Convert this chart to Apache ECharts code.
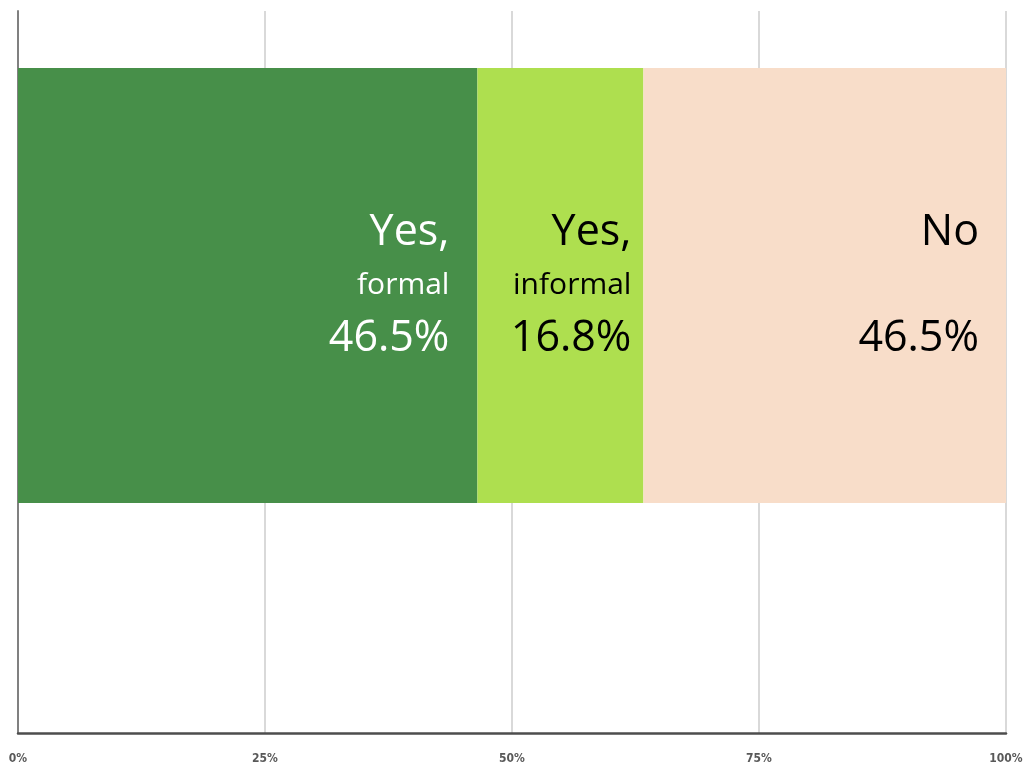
<!DOCTYPE html>
<html>
<head>
<meta charset="utf-8">
<script src="https://cdn.jsdelivr.net/npm/echarts@6/dist/echarts.min.js"></script>
<style>
  html, body { margin: 0; padding: 0; background: #fff; }
  #chart { width: 1028px; height: 770px; }
</style>
</head>
<body>
<div id="chart"></div>
<script>
// 数据
var categories = [''];
var seriesNames = ['Yes, formal', 'Yes, informal', 'No'];
var values = [46.5, 16.8, 36.7];           // bar widths as drawn
var labelTop = ['Yes,', 'Yes,', 'No'];
var labelMid = ['formal', 'informal', ' '];
var labelPct = ['46.5%', '16.8%', '46.5%'];
var tickValues = [0, 25, 50, 75, 100];

var colors = ['#478f49', '#aedf4f', '#f8ddc9'];
var textColors = ['#ffffff', '#000000', '#000000'];
var labelDist = [28, 12, 27];

var chart = echarts.init(document.getElementById('chart'));

var series = seriesNames.map(function (name, i) {
    return {
        name: name,
        type: 'bar',
        stack: 'total',
        xAxisIndex: 1,
        yAxisIndex: 1,
        barCategoryGap: '0%',
        itemStyle: { color: colors[i] },
        label: {
            show: true,
            position: 'insideRight',
            distance: labelDist[i],
            align: 'right',
            formatter: '{a|' + labelTop[i] + '}\n{b|' + labelMid[i] + '}\n{a|' + labelPct[i] + '}',
            rich: {
                a: { fontSize: 43, lineHeight: 53, color: textColors[i], fontFamily: 'Open Sans', align: 'right' },
                b: { fontSize: 30, lineHeight: 53, color: textColors[i], fontFamily: 'Open Sans', align: 'right' }
            }
        },
        silent: true,
        animation: false,
        data: [values[i]]
    };
});

var option = {
    backgroundColor: '#ffffff',
    grid: [
        { left: 18, right: 22, top: 11, bottom: 37 },
        { left: 18, right: 22, top: 68, height: 435 }
    ],
    xAxis: [
        {
            gridIndex: 0,
            type: 'value',
            min: 0,
            max: 100,
            interval: 25,
            axisLine: { show: true, lineStyle: { color: '#4d4d4d', width: 2.5 } },
            axisTick: { show: false },
            splitLine: { show: true, lineStyle: { color: '#d9d9d9', width: 2 } },
            axisLabel: {
                margin: 20,
                fontSize: 12,
                color: '#595959',
                fontFamily: 'DejaVu Sans Condensed',
                fontWeight: 'bold',
                formatter: function (v) { return tickValues.indexOf(v) >= 0 ? v + '%' : ''; }
            }
        },
        {
            gridIndex: 1,
            type: 'value',
            min: 0,
            max: 100,
            show: false
        }
    ],
    yAxis: [
        {
            gridIndex: 0,
            type: 'category',
            data: categories,
            axisLine: { show: true, lineStyle: { color: '#808080', width: 2 } },
            axisTick: { show: false },
            axisLabel: { show: false },
            splitLine: { show: false }
        },
        {
            gridIndex: 1,
            type: 'category',
            data: categories,
            show: false
        }
    ],
    series: series
};
chart.setOption(option);
</script>
</body>
</html>
